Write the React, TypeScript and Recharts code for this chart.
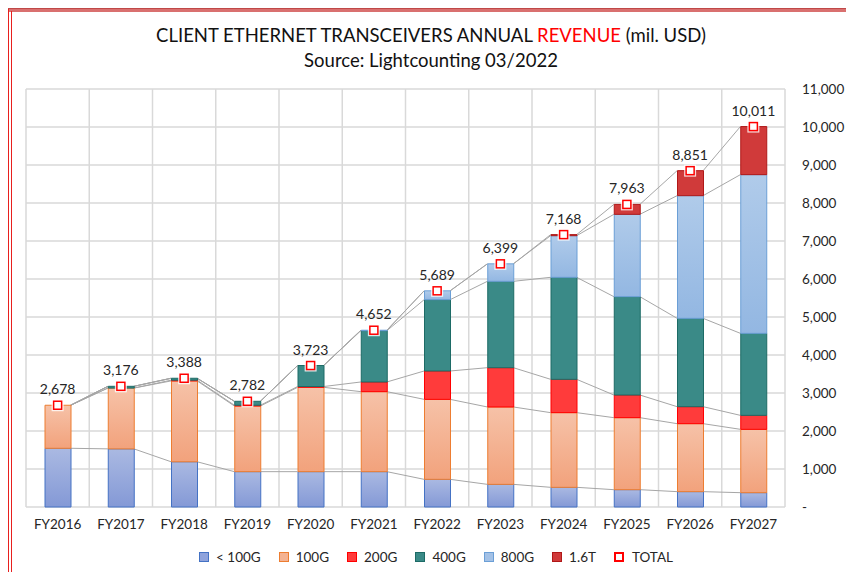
import { ComposedChart, Bar, Line, XAxis, YAxis, CartesianGrid, Legend, LabelList } from 'recharts';

const years = ['FY2016', 'FY2017', 'FY2018', 'FY2019', 'FY2020', 'FY2021', 'FY2022', 'FY2023', 'FY2024', 'FY2025', 'FY2026', 'FY2027'];
const below100G = [1545, 1530, 1190, 930, 930, 930, 728, 596, 518, 456, 404, 377];
const g100 = [1133, 1600, 2128, 1728, 2220, 2105, 2105, 2036, 1965, 1895, 1789, 1667];
const g200 = [0, 0, 20, 20, 20, 255, 746, 1034, 877, 596, 447, 368];
const g400 = [0, 46, 50, 104, 553, 1350, 1877, 2273, 2684, 2588, 2325, 2158];
const g800 = [0, 0, 0, 0, 0, 12, 233, 460, 1096, 2167, 3228, 4176];
const t16 = [0, 0, 0, 0, 0, 0, 0, 0, 28, 261, 658, 1265];
const totals = [2678, 3176, 3388, 2782, 3723, 4652, 5689, 6399, 7168, 7963, 8851, 10011];
const yTicks = [0, 1000, 2000, 3000, 4000, 5000, 6000, 7000, 8000, 9000, 10000, 11000];

const BAR_W = 26;

const series = [
  { key: 'lt100', name: '< 100G', values: below100G, fill: 'url(#gLt100)', stroke: '#4472c4', icon: '#8fa3dc' },
  { key: 'g100', name: '100G', values: g100, fill: 'url(#g100)', stroke: '#ed7d31', icon: '#f4b393' },
  { key: 'g200', name: '200G', values: g200, fill: '#ff3b3b', stroke: '#ff0000', icon: '#ff3b3b' },
  { key: 'g400', name: '400G', values: g400, fill: '#3a8a87', stroke: '#1d6b66', icon: '#3a8a87' },
  { key: 'g800', name: '800G', values: g800, fill: 'url(#g800)', stroke: '#6b9fd6', icon: '#a3c1e6' },
  { key: 't16', name: '1.6T', values: t16, fill: '#d03a3a', stroke: '#b01818', icon: '#d03a3a' },
];

const data = years.map((year, i) => {
  const row: any = { year, total: totals[i] };
  let cum = 0;
  series.forEach((s, k) => {
    row[s.key] = s.values[i];
    cum += s.values[i];
    row['c' + k] = cum;
  });
  return row;
});

const fmt = (v: number) => (v === 0 ? '-' : v.toLocaleString('en-US'));
const font = 'Lato, "Open Sans", sans-serif';

// Excel-style series lines: join the top-right corner of one bar to the top-left of the next
const seriesLineCurve = (context: any) => {
  let prev: number[] | null = null;
  return {
    areaStart() {},
    areaEnd() {},
    lineStart() {
      prev = null;
    },
    lineEnd() {},
    point(x: number, y: number) {
      x = +x;
      y = +y;
      if (prev) {
        context.moveTo(prev[0] + BAR_W / 2, prev[1]);
        context.lineTo(x - BAR_W / 2, y);
      }
      prev = [x, y];
    },
  };
};

function TotalDot(props: any) {
  const { cx, cy } = props;
  if (cx == null || cy == null) return null;
  return (
    <g>
      <rect x={cx - 6} y={cy - 6} width={12} height={12} fill="#ffffff" opacity={0.8} />
      <rect x={cx - 4} y={cy - 4} width={8} height={8} fill="#ffffff" stroke="#ff0000" strokeWidth={1.5} />
    </g>
  );
}

function LegendContent() {
  return (
    <div style={{ height: 30, display: 'flex', justifyContent: 'center', alignItems: 'center', fontFamily: font, fontSize: 13.5, color: '#262626' }}>
      {series.map((s) => (
        <div key={s.key} style={{ display: 'flex', alignItems: 'center', marginRight: 18 }}>
          <span style={{ display: 'inline-block', boxSizing: 'border-box', width: 10, height: 10, background: s.icon, border: `1px solid ${s.stroke}`, marginRight: 7 }} />
          <span>{s.name}</span>
        </div>
      ))}
      <div style={{ display: 'flex', alignItems: 'center' }}>
        <span style={{ display: 'inline-block', boxSizing: 'border-box', width: 10, height: 10, background: '#fff', border: '2px solid #ff0000', marginRight: 8 }} />
        <span>TOTAL</span>
      </div>
    </div>
  );
}

export default function App() {
  return (
    <div style={{ position: 'absolute', left: 0, top: 0, width: 846, height: 572, background: '#ffffff', overflow: 'hidden' }}>
      <div style={{ position: 'absolute', left: 8, top: 8, width: 846, height: 3, background: '#d9706f', borderTop: '1px solid #c04848' }} />
      <div style={{ position: 'absolute', left: 8, top: 9, width: 1, height: 563, background: '#e8201e' }} />
      <div style={{ position: 'absolute', left: 11, top: 11, width: 1, height: 561, background: '#e8201e' }} />
      <div style={{ position: 'absolute', left: 0, top: 23, width: 862, textAlign: 'center', fontFamily: font, fontSize: 18.5, color: '#111', lineHeight: '25px' }}>
        <div>CLIENT ETHERNET TRANSCEIVERS ANNUAL <span style={{ color: '#ff0000' }}>REVENUE</span> (mil. USD)</div>
        <div>Source: Lightcounting 03/2022</div>
      </div>
      <div style={{ position: 'absolute', left: 0, top: 0 }}>
        <ComposedChart width={846} height={572} data={data} margin={{ top: 89, right: 0, left: 26, bottom: 0 }} barCategoryGap={0}>
          <defs>
            <linearGradient id="gLt100" x1="0" y1="0" x2="0" y2="1">
              <stop offset="0%" stopColor="#aab9e2" />
              <stop offset="100%" stopColor="#8499d6" />
            </linearGradient>
            <linearGradient id="g100" x1="0" y1="0" x2="0" y2="1">
              <stop offset="0%" stopColor="#f6c2a8" />
              <stop offset="100%" stopColor="#f2a27c" />
            </linearGradient>
            <linearGradient id="g800" x1="0" y1="0" x2="0" y2="1">
              <stop offset="0%" stopColor="#b0cbea" />
              <stop offset="100%" stopColor="#93b7e2" />
            </linearGradient>
          </defs>
          <CartesianGrid
            stroke="#d9d9d9"
            strokeWidth={1.5}
            verticalCoordinatesGenerator={({ offset }: any) =>
              years.map((_, i) => offset.left + (offset.width * i) / years.length).concat([offset.left + offset.width])
            }
          />
          <XAxis
            dataKey="year"
            axisLine={false}
            tickLine={false}
            tickMargin={6}
            height={35}
            tick={{ fontFamily: font, fontSize: 13.5, fill: '#262626' }}
          />
          <YAxis
            orientation="right"
            domain={[0, 11000]}
            ticks={yTicks}
            tickFormatter={fmt}
            axisLine={false}
            tickLine={false}
            tickMargin={11}
            width={61}
            tick={{ fontFamily: font, fontSize: 13.5, fill: '#262626', textAnchor: 'start' }}
          />
          <Legend verticalAlign="bottom" content={<LegendContent />} />
          {series.map((s, k) => (
            <Line
              key={'c' + k}
              dataKey={'c' + k}
              type={seriesLineCurve as any}
              stroke="#a6a6a6"
              strokeWidth={1}
              dot={false}
              activeDot={false}
              legendType="none"
              isAnimationActive={false}
              zIndex={250}
            />
          ))}
          {series.map((s) => (
            <Bar
              key={s.key}
              dataKey={s.key}
              name={s.name}
              stackId="a"
              barSize={BAR_W}
              fill={s.fill}
              stroke={s.stroke}
              strokeWidth={1}
              isAnimationActive={false}
            />
          ))}
          <Line
            dataKey="total"
            name="TOTAL"
            stroke="none"
            dot={<TotalDot />}
            activeDot={false}
            isAnimationActive={false}
            zIndex={600}
          >
            <LabelList dataKey="total" position="top" offset={11} formatter={(v: any) => fmt(Number(v))} style={{ fontFamily: font, fontSize: 14, fill: '#262626' }} />
          </Line>
        </ComposedChart>
      </div>
    </div>
  );
}
